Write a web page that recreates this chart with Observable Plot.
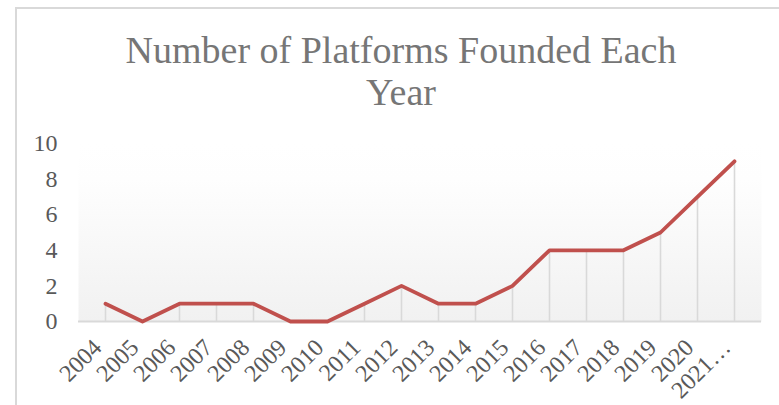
<!DOCTYPE html>
<html>
<head>
<meta charset="utf-8">
<script src="https://cdn.jsdelivr.net/npm/d3@7"></script>
<script src="https://cdn.jsdelivr.net/npm/@observablehq/plot@0.6"></script>
<style>
  html, body { margin: 0; padding: 0; background: #fff; }
  #wrap { position: relative; width: 779px; height: 405px; overflow: hidden; background: #fff; }
  #frame { position: absolute; left: 15px; top: 7px; width: 900px; height: 600px; border-left: 2px solid #d9d9d9; border-top: 2px solid #d9d9d9; box-sizing: border-box; }
  #title { position: absolute; left: 15px; width: 772px; top: 29px; text-align: center; font-family: "Liberation Serif", "Times New Roman", serif; font-size: 38px; line-height: 42px; color: #767676; }
  #chart { position: absolute; left: 0; top: 125px; }
</style>
</head>
<body>
<div id="wrap">
  <div id="frame"></div>
  <div id="title">Number of Platforms Founded Each<br>Year</div>
  <div id="chart"></div>
</div>
<script>
const years = ["2004","2005","2006","2007","2008","2009","2010","2011","2012","2013","2014","2015","2016","2017","2018","2019","2020","2021…"];
const counts = [1,0,1,1,1,0,0,1,2,1,1,2,4,4,4,5,7,9];
const yTicks = [0,2,4,6,8,10];

const data = years.map((year, i) => ({year, count: counts[i]}));

const plot = Plot.plot({
  width: 779,
  height: 280,
  marginLeft: 78,
  marginRight: 18,
  marginTop: 18,
  marginBottom: 84,
  style: {fontFamily: "'Liberation Serif', 'Times New Roman', serif", fontSize: "24px", color: "#595959", background: "transparent", overflow: "visible"},
  x: {type: "point", domain: years, padding: 0.5, label: null},
  y: {domain: [0, 10], label: null},
  marks: [
    Plot.frame({fill: "url(#bggrad)", stroke: "none"}),
    Plot.ruleX(data, {x: "year", y1: 0, y2: "count", stroke: "#d9d9d9", strokeWidth: 1.6}),
    Plot.ruleY([0], {stroke: "#d9d9d9", strokeWidth: 2}),
    Plot.axisY({ticks: yTicks, tickSize: 0, tickPadding: 21, fill: "#595959", fontSize: 24, label: null}),
    Plot.axisX({tickSize: 0, tickPadding: 10, tickRotate: -45, dx: -8, dy: 12, fill: "#595959", fontSize: 24, label: null}),
    Plot.line(data, {x: "year", y: "count", stroke: "#c0504d", strokeWidth: 3.8, strokeLinejoin: "round", strokeLinecap: "round"})
  ]
});

const defs = d3.select(plot).insert("defs", ":first-child");
const g = defs.append("linearGradient").attr("id", "bggrad").attr("x1", 0).attr("y1", 0).attr("x2", 0).attr("y2", 1);
g.append("stop").attr("offset", "0%").attr("stop-color", "#ffffff");
g.append("stop").attr("offset", "20%").attr("stop-color", "#fefefe");
g.append("stop").attr("offset", "100%").attr("stop-color", "#f1f1f1");

document.getElementById("chart").appendChild(plot);
</script>
</body>
</html>
